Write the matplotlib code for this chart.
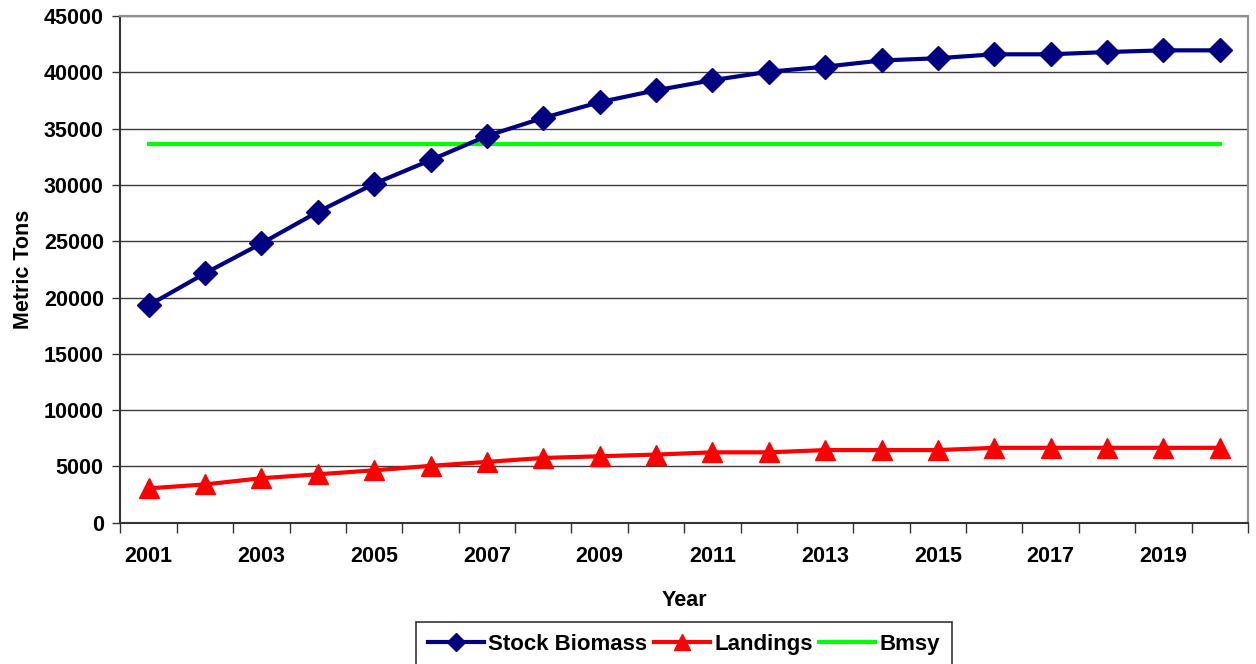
import matplotlib
matplotlib.use('Agg')
from matplotlib import pyplot as plt
import numpy as np

years = list(range(2001, 2021))
stock_biomass = [19300, 22150, 24800, 27600, 30100, 32200, 34350, 35950, 37350, 38400,
                 39300, 40050, 40500, 41050, 41250, 41600, 41600, 41800, 41950, 41950]
landings = [3050, 3400, 3950, 4300, 4650, 5050, 5400, 5750, 5900, 6050,
            6250, 6250, 6450, 6450, 6450, 6650, 6650, 6650, 6650, 6650]
bmsy = [33650] * len(years)

plt.rcParams['font.family'] = ['Liberation Sans', 'DejaVu Sans']
plt.rcParams['font.weight'] = 'bold'

fig = plt.figure(figsize=(12.56, 6.64), dpi=100)
ax = fig.add_axes([0.0959, 0.2128, 0.8977, 0.7631])

x = np.arange(len(years))
ax.plot(x, stock_biomass, color='#000080', lw=3, marker='D', markersize=12.5,
        label='Stock Biomass', zorder=4)
ax.plot(x, landings, color='#ff0000', lw=3, marker='^', markersize=15,
        label='Landings', zorder=4)
ax.plot(x, bmsy, color='#00ff00', lw=3, label='Bmsy', zorder=3)

ax.set_xlim(-0.5, len(years) - 0.5)
ax.set_ylim(0, 45000)
ax.set_yticks(range(0, 45001, 5000))
ax.yaxis.grid(True, color='#3a3a3a', lw=1)
ax.set_axisbelow(True)

# category boundaries get the tick marks, every other year gets a label
ax.set_xticks(np.arange(-0.5, len(years), 1.0))
ax.set_xticklabels([])
ax.set_xticks(x[::2], minor=True)
ax.set_xticklabels([str(y) for y in years[::2]], minor=True)
ax.tick_params(axis='x', which='major', direction='out', length=7, width=1, color='#333333')
ax.tick_params(axis='x', which='minor', length=0, pad=17, labelsize=15.5)
ax.tick_params(axis='y', direction='out', length=6, width=1, color='#333333', labelsize=15.5, pad=6)
for lab in ax.get_xticklabels(minor=True) + ax.get_yticklabels():
    lab.set_fontweight('bold')

for side in ['left', 'bottom']:
    ax.spines[side].set_color('#333333')
    ax.spines[side].set_linewidth(1.5)
for side in ['top', 'right']:
    ax.spines[side].set_color('#909090')
    ax.spines[side].set_linewidth(1.5)

ax.set_xlabel('Year', fontsize=15.5, fontweight='bold', labelpad=16)
ax.set_ylabel('Metric Tons', fontsize=15.5, fontweight='bold', labelpad=7)

leg = fig.legend(loc='upper center', bbox_to_anchor=(0.5446, 0.0633), ncol=3,
                 frameon=True, fancybox=False, edgecolor='black', borderaxespad=0,
                 prop={'weight': 'bold', 'size': 16}, handlelength=2.5,
                 handletextpad=0.2, columnspacing=0.3, markerscale=0.75,
                 borderpad=0.55)
leg.get_frame().set_linewidth(1.2)

fig.savefig('out.png', dpi=100)
